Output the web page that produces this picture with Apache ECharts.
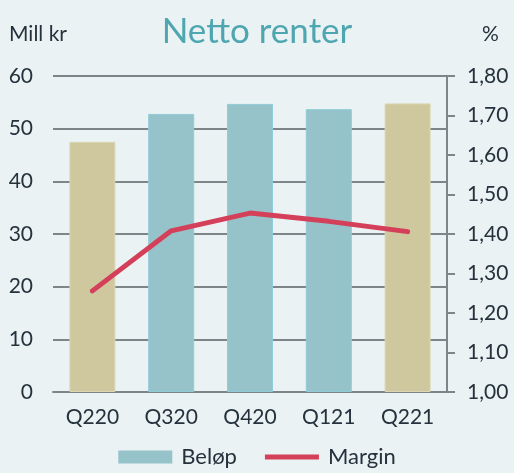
<!DOCTYPE html>
<html lang="no">
<head>
    <meta charset="UTF-8">
    <title>Netto renter</title>
    <style>
        body { margin: 0; background: #eaf2f4; }
        #main { width: 514px; height: 473px; }
    </style>
    <script src="https://cdn.jsdelivr.net/npm/echarts@6/dist/echarts.min.js"></script>
</head>
<body>
<div id="main"></div>
<script>
    var quarters = ['Q220', 'Q320', 'Q420', 'Q121', 'Q221'];
    var belop = [47.5, 52.8, 54.7, 53.7, 54.8];
    var margin = [1.256, 1.408, 1.453, 1.432, 1.406];
    // Q2-kvartalene er farget beige
    var highlighted = ['Q220', 'Q221'];

    var textColor = '#25323d';
    var teal = '#95c3c9';
    var beige = '#cfc79e';
    var red = '#d4405a';

    var chart = echarts.init(document.getElementById('main'));

    var barData = belop.map(function (v, i) {
        var hl = highlighted.indexOf(quarters[i]) >= 0;
        return {
            value: v,
            itemStyle: {
                color: hl ? beige : teal,
                borderColor: hl ? '#ddd6b3' : '#8fcbd8',
                borderWidth: 1
            }
        };
    });

    chart.setOption({
        backgroundColor: '#eaf2f4',
        textStyle: { fontFamily: 'Lato' },
        title: {
            text: 'Netto renter',
            left: 'center',
            top: 9,
            textStyle: { color: '#4ea7b0', fontSize: 35, fontWeight: 'normal', fontFamily: 'Lato' }
        },
        graphic: [
            { type: 'text', left: 9, top: 24, style: { text: 'Mill kr', fill: textColor, fontSize: 21, fontFamily: 'Lato' } },
            { type: 'text', left: 482, top: 24, style: { text: '%', fill: textColor, fontSize: 21, fontFamily: 'Lato' } }
        ],
        legend: {
            bottom: 0,
            left: 'center',
            itemWidth: 54,
            itemHeight: 13,
            itemGap: 28,
            textStyle: { color: textColor, fontSize: 22, padding: [0, 0, 0, 4] },
            data: [
                { name: 'Beløp', icon: 'rect', itemStyle: { color: teal, borderWidth: 0 } },
                { name: 'Margin', icon: 'path://M0,0 L56,0 L56,5 L0,5 Z', itemStyle: { color: red } }
            ]
        },
        grid: { left: 53, right: 67, top: 76, bottom: 81 },
        xAxis: {
            type: 'category',
            data: quarters,
            axisLine: { lineStyle: { color: '#7d8588', width: 2 } },
            axisTick: { show: false },
            axisLabel: { color: textColor, fontSize: 21, margin: 15 }
        },
        yAxis: [
            {
                type: 'value',
                min: 0, max: 60, interval: 10,
                axisLine: { show: false },
                axisTick: { show: false },
                axisLabel: { color: textColor, fontSize: 21, margin: 20 },
                splitLine: { lineStyle: { color: '#7d8588', width: 2 } }
            },
            {
                type: 'value',
                min: 1.0, max: 1.8, interval: 0.1,
                position: 'right',
                axisLine: { show: true, lineStyle: { color: '#7d8588', width: 2 } },
                axisTick: { show: true, length: 8, lineStyle: { color: '#7d8588', width: 2 } },
                axisLabel: {
                    color: textColor, fontSize: 21, margin: 20,
                    formatter: function (v) { return v.toFixed(2).replace('.', ','); }
                },
                splitLine: { show: false }
            }
        ],
        series: [
            {
                name: 'Beløp',
                type: 'bar',
                barWidth: 46,
                data: barData,
                itemStyle: { color: teal }
            },
            {
                name: 'Margin',
                type: 'line',
                yAxisIndex: 1,
                data: margin,
                symbol: 'none',
                lineStyle: { color: red, width: 5, cap: 'round' },
                itemStyle: { color: red }
            }
        ]
    });
</script>
</body>
</html>
